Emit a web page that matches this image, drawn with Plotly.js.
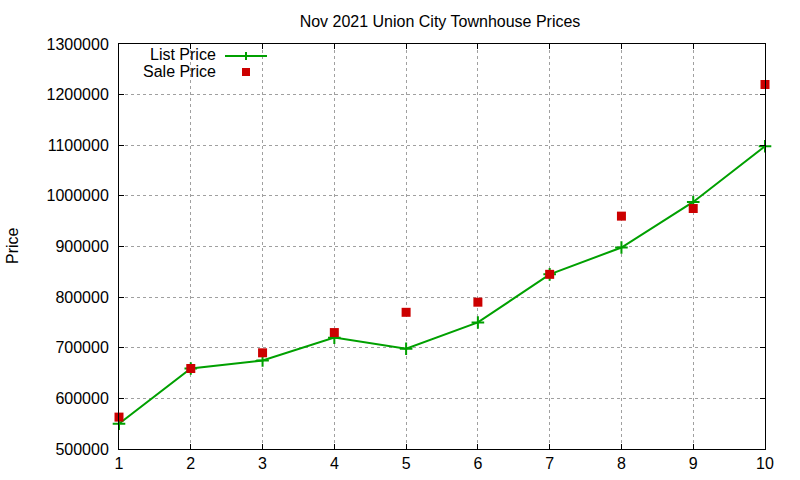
<!DOCTYPE html>
<html>
<head>
<meta charset="utf-8">
<script src="https://cdn.plot.ly/plotly-3.0.1.min.js"></script>
<style>
  body { margin: 0; background: #fff; }
  #chart { width: 800px; height: 480px; }
</style>
</head>
<body>
<div id="chart"></div>
<script>
// month listing index 1..10
var houses = [1, 2, 3, 4, 5, 6, 7, 8, 9, 10];
var listPrice = [550000, 659000, 675000, 720000, 698000, 750000, 845000, 898000, 988000, 1098000];
var salePrice = [563000, 659000, 690000, 730000, 770000, 790000, 845000, 960000, 975000, 1220000];
var yTicks = [500000, 600000, 700000, 800000, 900000, 1000000, 1100000, 1200000, 1300000];

var green = 'rgb(0,160,0)';
var red = 'rgb(204,0,0)';

var list = {
  x: houses,
  y: listPrice,
  name: 'List Price',
  type: 'scatter',
  mode: 'lines+markers',
  line: { color: green, width: 2 },
  marker: { symbol: 'cross-thin-open', size: 9, line: { color: green, width: 2 } },
  cliponaxis: false
};

var sale = {
  x: houses,
  y: salePrice,
  name: 'Sale Price',
  type: 'scatter',
  mode: 'markers',
  marker: { symbol: 'square', size: 9, color: red },
  cliponaxis: false
};

// plot box in pixels: x 119..765, y 44..449
function px(x) { return (x - 119) / 646; }
function py(y) { return (449 - y) / 405; }

var layout = {
  width: 800,
  height: 480,
  margin: { l: 119, r: 35, t: 44, b: 31 },
  paper_bgcolor: '#fff',
  plot_bgcolor: '#fff',
  font: { family: 'Liberation Sans, Arial, sans-serif', size: 16, color: '#000' },
  showlegend: false,
  title: {
    text: 'Nov 2021 Union City Townhouse Prices',
    x: 0.55, xanchor: 'center',
    y: 0.955, yanchor: 'middle',
    font: { size: 16 }
  },
  xaxis: {
    range: [1, 10],
    tickvals: houses,
    ticks: 'inside', ticklen: 5, tickcolor: '#000',
    showline: true, linecolor: '#000', linewidth: 1, mirror: 'ticks',
    showgrid: true, gridcolor: '#a0a0a0', griddash: 'dot', gridwidth: 1,
    zeroline: false,
    tickfont: { size: 16 }
  },
  yaxis: {
    range: [500000, 1300000],
    tickvals: yTicks,
    tickformat: 'd',
    ticks: 'inside', ticklen: 5, tickcolor: '#000',
    ticklabelstandoff: 6,
    showline: true, linecolor: '#000', linewidth: 1, mirror: 'ticks',
    showgrid: true, gridcolor: '#a0a0a0', griddash: 'dot', gridwidth: 1,
    zeroline: false,
    tickfont: { size: 16 }
  },
  annotations: [
    // y axis label, placed by hand like gnuplot does
    { xref: 'paper', yref: 'paper', x: px(12), y: py(246), xanchor: 'center', yanchor: 'middle',
      text: 'Price', textangle: -90, showarrow: false, font: { size: 16 } },
    { xref: 'paper', yref: 'paper', x: px(218), y: py(55), xanchor: 'right', yanchor: 'middle',
      text: 'List Price', showarrow: false, font: { size: 16 } },
    { xref: 'paper', yref: 'paper', x: px(218), y: py(71), xanchor: 'right', yanchor: 'middle',
      text: 'Sale Price', showarrow: false, font: { size: 16 } }
  ],
  shapes: [
    { type: 'line', xref: 'paper', yref: 'paper', x0: px(225), x1: px(267), y0: py(56), y1: py(56),
      line: { color: green, width: 2 } },
    { type: 'line', xref: 'paper', yref: 'paper', x0: px(246), x1: px(246), y0: py(52), y1: py(60),
      line: { color: green, width: 2 } },
    { type: 'rect', xref: 'paper', yref: 'paper', x0: px(242), x1: px(250), y0: py(68), y1: py(76),
      fillcolor: red, line: { width: 0 } }
  ]
};

Plotly.newPlot('chart', [list, sale], layout, { displayModeBar: false, staticPlot: true });
</script>
</body>
</html>
